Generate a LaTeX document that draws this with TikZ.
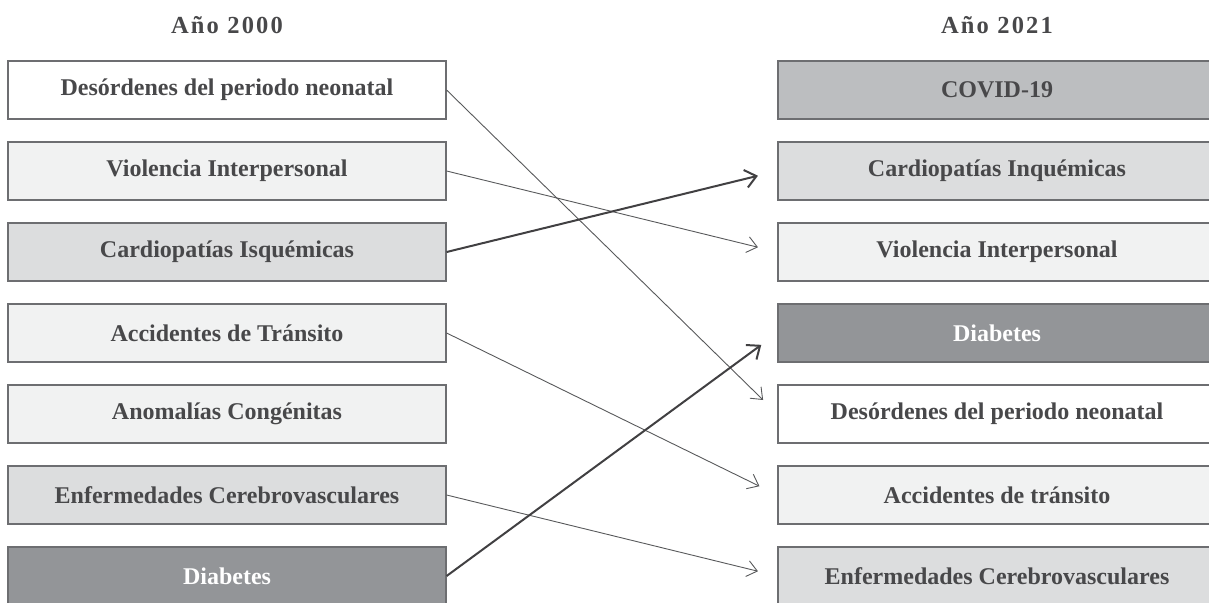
\documentclass[tikz,border=0pt]{standalone}
\usepackage{fontspec}
\setmainfont{Liberation Serif}
\newfontfamily\titlefont[LetterSpace=9]{Liberation Serif}
\usetikzlibrary{arrows.meta}
\definecolor{txt}{HTML}{48484A}
\definecolor{bord}{HTML}{6D6E71}
\definecolor{fwhite}{HTML}{FFFFFF}
\definecolor{flight}{HTML}{F1F2F2}
\definecolor{fmid}{HTML}{DCDDDE}
\definecolor{fcovid}{HTML}{BCBEC0}
\definecolor{fdark}{HTML}{939598}
\definecolor{linec}{HTML}{58595B}
\definecolor{thickc}{HTML}{414042}
\tikzset{
  box/.style={draw=bord, line width=1.2pt, minimum width=438pt, minimum height=58pt,
    inner sep=0pt, text=txt, font=\fontsize{24}{28}\selectfont\bfseries},
  darkbox/.style={box, fill=fdark, text=white},
  ttl/.style={text=txt, font=\titlefont\fontsize{24.5}{28}\selectfont\bfseries},
  thin/.style={draw=linec, line width=0.9pt, shorten >=20pt,
    -{Straight Barb[length=10pt,width=16pt]}},
  thick/.style={draw=thickc, line width=2pt, shorten >=20pt,
    -{Straight Barb[length=11pt,width=18pt]}}
}
\begin{document}
\begin{tikzpicture}[x=1pt,y=-1pt]
\useasboundingbox (0,0) rectangle (1209,602);
\clip (0,0) rectangle (1209,602);
\node[ttl] (t1) at (227,25) {Año 2000};
\node[ttl] (t2) at (997,25) {Año 2021};
% left column
\node[box, fill=fwhite] (l0) at (227,90) {Desórdenes del periodo neonatal};
\node[box, fill=flight] (l1) at (227,171) {Violencia Interpersonal};
\node[box, fill=fmid] (l2) at (227,252) {Cardiopatías Isquémicas};
\node[box, fill=flight] (l3) at (227,333) {Accidentes de Tránsito};
\node[box, fill=flight] (l4) at (227,414) {Anomalías Congénitas};
\node[box, fill=fmid] (l5) at (227,495) {Enfermedades Cerebrovasculares};
\node[darkbox] (l6) at (227,576) {Diabetes};
% right column
\node[box, fill=fcovid] (r0) at (997,90) {COVID-19};
\node[box, fill=fmid] (r1) at (997,171) {Cardiopatías Inquémicas};
\node[box, fill=flight] (r2) at (997,252) {Violencia Interpersonal};
\node[darkbox] (r3) at (997,333) {Diabetes};
\node[box, fill=fwhite] (r4) at (997,414) {Desórdenes del periodo neonatal};
\node[box, fill=flight] (r5) at (997,495) {Accidentes de tránsito};
\node[box, fill=fmid] (r6) at (997,576) {Enfermedades Cerebrovasculares};
% connectors
\draw[thin] (l0.east) -- (r4.west);
\draw[thin] (l1.east) -- (r2.west);
\draw[thin] (l3.east) -- (r5.west);
\draw[thin] (l5.east) -- (r6.west);
\draw[thick] (l2.east) -- (r1.west);
\draw[thick] (l6.east) -- (r3.west);
\end{tikzpicture}
\end{document}
